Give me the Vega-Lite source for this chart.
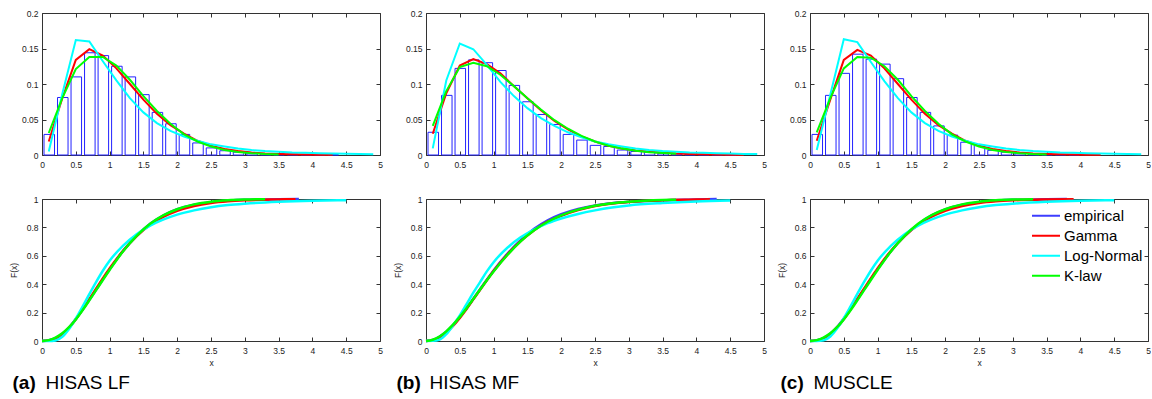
{
"$schema": "https://vega.github.io/schema/vega-lite/v6.json",
"background": "white",
"padding": {"left": 8, "top": 8, "right": 0, "bottom": 0},
"columns": 3,
"bounds": "flush",
"spacing": {"row": 44, "column": 46},
"resolve": {"scale": {"color": "independent"}},
"datasets": {
"bars": [
{"panel":"a","lo":0,"hi":0.2,"p":0.029},{"panel":"a","lo":0.2,"hi":0.4,"p":0.081},{"panel":"a","lo":0.4,"hi":0.6,"p":0.110},{"panel":"a","lo":0.6,"hi":0.8,"p":0.144},{"panel":"a","lo":0.8,"hi":1.0,"p":0.140},{"panel":"a","lo":1.0,"hi":1.2,"p":0.125},{"panel":"a","lo":1.2,"hi":1.4,"p":0.110},{"panel":"a","lo":1.4,"hi":1.6,"p":0.085},{"panel":"a","lo":1.6,"hi":1.8,"p":0.060},{"panel":"a","lo":1.8,"hi":2.0,"p":0.044},{"panel":"a","lo":2.0,"hi":2.2,"p":0.029},{"panel":"a","lo":2.2,"hi":2.4,"p":0.017},{"panel":"a","lo":2.4,"hi":2.6,"p":0.010},{"panel":"a","lo":2.6,"hi":2.8,"p":0.006},{"panel":"a","lo":2.8,"hi":3.0,"p":0.004},{"panel":"a","lo":3.0,"hi":3.2,"p":0.003},{"panel":"a","lo":3.2,"hi":3.4,"p":0.002},{"panel":"a","lo":3.4,"hi":3.6,"p":0.0015},{"panel":"a","lo":3.6,"hi":3.8,"p":0.001},{"panel":"a","lo":3.8,"hi":4.0,"p":0.0008},{"panel":"a","lo":4.0,"hi":4.2,"p":0.0006},{"panel":"a","lo":4.2,"hi":4.4,"p":0.0004},
{"panel":"b","lo":0,"hi":0.2,"p":0.032},{"panel":"b","lo":0.2,"hi":0.4,"p":0.084},{"panel":"b","lo":0.4,"hi":0.6,"p":0.122},{"panel":"b","lo":0.6,"hi":0.8,"p":0.134},{"panel":"b","lo":0.8,"hi":1.0,"p":0.130},{"panel":"b","lo":1.0,"hi":1.2,"p":0.119},{"panel":"b","lo":1.2,"hi":1.4,"p":0.098},{"panel":"b","lo":1.4,"hi":1.6,"p":0.075},{"panel":"b","lo":1.6,"hi":1.8,"p":0.057},{"panel":"b","lo":1.8,"hi":2.0,"p":0.043},{"panel":"b","lo":2.0,"hi":2.2,"p":0.029},{"panel":"b","lo":2.2,"hi":2.4,"p":0.021},{"panel":"b","lo":2.4,"hi":2.6,"p":0.0136},{"panel":"b","lo":2.6,"hi":2.8,"p":0.012},{"panel":"b","lo":2.8,"hi":3.0,"p":0.007},{"panel":"b","lo":3.0,"hi":3.2,"p":0.005},{"panel":"b","lo":3.2,"hi":3.4,"p":0.004},{"panel":"b","lo":3.4,"hi":3.6,"p":0.0025},{"panel":"b","lo":3.6,"hi":3.8,"p":0.0015},{"panel":"b","lo":3.8,"hi":4.0,"p":0.001},{"panel":"b","lo":4.0,"hi":4.2,"p":0.0008},{"panel":"b","lo":4.2,"hi":4.4,"p":0.0006},{"panel":"b","lo":4.4,"hi":4.6,"p":0.0004},
{"panel":"c","lo":0,"hi":0.2,"p":0.029},{"panel":"c","lo":0.2,"hi":0.4,"p":0.084},{"panel":"c","lo":0.4,"hi":0.6,"p":0.115},{"panel":"c","lo":0.6,"hi":0.8,"p":0.142},{"panel":"c","lo":0.8,"hi":1.0,"p":0.135},{"panel":"c","lo":1.0,"hi":1.2,"p":0.128},{"panel":"c","lo":1.2,"hi":1.4,"p":0.1075},{"panel":"c","lo":1.4,"hi":1.6,"p":0.081},{"panel":"c","lo":1.6,"hi":1.8,"p":0.060},{"panel":"c","lo":1.8,"hi":2.0,"p":0.041},{"panel":"c","lo":2.0,"hi":2.2,"p":0.028},{"panel":"c","lo":2.2,"hi":2.4,"p":0.018},{"panel":"c","lo":2.4,"hi":2.6,"p":0.0136},{"panel":"c","lo":2.6,"hi":2.8,"p":0.0066},{"panel":"c","lo":2.8,"hi":3.0,"p":0.004},{"panel":"c","lo":3.0,"hi":3.2,"p":0.0025},{"panel":"c","lo":3.2,"hi":3.4,"p":0.0015},{"panel":"c","lo":3.4,"hi":3.6,"p":0.001},{"panel":"c","lo":3.6,"hi":3.8,"p":0.0008},{"panel":"c","lo":3.8,"hi":4.0,"p":0.0005}
],
"pdf": [
{"panel":"a","series":"Gamma","x":0.1,"y":0.019},{"panel":"a","series":"Gamma","x":0.3,"y":0.080},{"panel":"a","series":"Gamma","x":0.5,"y":0.134},{"panel":"a","series":"Gamma","x":0.7,"y":0.149},{"panel":"a","series":"Gamma","x":0.9,"y":0.140},{"panel":"a","series":"Gamma","x":1.1,"y":0.122},{"panel":"a","series":"Gamma","x":1.3,"y":0.100},{"panel":"a","series":"Gamma","x":1.5,"y":0.078},{"panel":"a","series":"Gamma","x":1.7,"y":0.058},{"panel":"a","series":"Gamma","x":1.9,"y":0.042},{"panel":"a","series":"Gamma","x":2.1,"y":0.030},{"panel":"a","series":"Gamma","x":2.3,"y":0.020},{"panel":"a","series":"Gamma","x":2.5,"y":0.013},{"panel":"a","series":"Gamma","x":2.7,"y":0.0085},{"panel":"a","series":"Gamma","x":2.9,"y":0.0055},{"panel":"a","series":"Gamma","x":3.1,"y":0.0035},{"panel":"a","series":"Gamma","x":3.3,"y":0.0022},{"panel":"a","series":"Gamma","x":3.5,"y":0.0014},{"panel":"a","series":"Gamma","x":3.7,"y":0.0009},{"panel":"a","series":"Gamma","x":3.9,"y":0.0006},{"panel":"a","series":"Gamma","x":4.1,"y":0.0004},{"panel":"a","series":"Gamma","x":4.3,"y":0.0003},
{"panel":"a","series":"Log-Normal","x":0.1,"y":0.005},{"panel":"a","series":"Log-Normal","x":0.3,"y":0.086},{"panel":"a","series":"Log-Normal","x":0.5,"y":0.162},{"panel":"a","series":"Log-Normal","x":0.7,"y":0.160},{"panel":"a","series":"Log-Normal","x":0.9,"y":0.132},{"panel":"a","series":"Log-Normal","x":1.1,"y":0.105},{"panel":"a","series":"Log-Normal","x":1.3,"y":0.080},{"panel":"a","series":"Log-Normal","x":1.5,"y":0.060},{"panel":"a","series":"Log-Normal","x":1.7,"y":0.045},{"panel":"a","series":"Log-Normal","x":1.9,"y":0.034},{"panel":"a","series":"Log-Normal","x":2.1,"y":0.026},{"panel":"a","series":"Log-Normal","x":2.3,"y":0.020},{"panel":"a","series":"Log-Normal","x":2.5,"y":0.015},{"panel":"a","series":"Log-Normal","x":2.7,"y":0.012},{"panel":"a","series":"Log-Normal","x":2.9,"y":0.009},{"panel":"a","series":"Log-Normal","x":3.1,"y":0.007},{"panel":"a","series":"Log-Normal","x":3.3,"y":0.0055},{"panel":"a","series":"Log-Normal","x":3.5,"y":0.0045},{"panel":"a","series":"Log-Normal","x":3.7,"y":0.0035},{"panel":"a","series":"Log-Normal","x":3.9,"y":0.003},{"panel":"a","series":"Log-Normal","x":4.1,"y":0.0025},{"panel":"a","series":"Log-Normal","x":4.3,"y":0.002},{"panel":"a","series":"Log-Normal","x":4.5,"y":0.0017},{"panel":"a","series":"Log-Normal","x":4.7,"y":0.0014},{"panel":"a","series":"Log-Normal","x":4.9,"y":0.0012},
{"panel":"a","series":"K-law","x":0.1,"y":0.031},{"panel":"a","series":"K-law","x":0.3,"y":0.080},{"panel":"a","series":"K-law","x":0.5,"y":0.121},{"panel":"a","series":"K-law","x":0.7,"y":0.138},{"panel":"a","series":"K-law","x":0.9,"y":0.138},{"panel":"a","series":"K-law","x":1.1,"y":0.126},{"panel":"a","series":"K-law","x":1.3,"y":0.106},{"panel":"a","series":"K-law","x":1.5,"y":0.083},{"panel":"a","series":"K-law","x":1.7,"y":0.062},{"panel":"a","series":"K-law","x":1.9,"y":0.044},{"panel":"a","series":"K-law","x":2.1,"y":0.029},{"panel":"a","series":"K-law","x":2.3,"y":0.019},{"panel":"a","series":"K-law","x":2.5,"y":0.012},{"panel":"a","series":"K-law","x":2.7,"y":0.007},{"panel":"a","series":"K-law","x":2.9,"y":0.0042},{"panel":"a","series":"K-law","x":3.1,"y":0.0025},{"panel":"a","series":"K-law","x":3.3,"y":0.0014},{"panel":"a","series":"K-law","x":3.5,"y":0.0008},
{"panel":"b","series":"Gamma","x":0.1,"y":0.030},{"panel":"b","series":"Gamma","x":0.3,"y":0.087},{"panel":"b","series":"Gamma","x":0.5,"y":0.126},{"panel":"b","series":"Gamma","x":0.7,"y":0.135},{"panel":"b","series":"Gamma","x":0.9,"y":0.128},{"panel":"b","series":"Gamma","x":1.1,"y":0.115},{"panel":"b","series":"Gamma","x":1.3,"y":0.097},{"panel":"b","series":"Gamma","x":1.5,"y":0.080},{"panel":"b","series":"Gamma","x":1.7,"y":0.063},{"panel":"b","series":"Gamma","x":1.9,"y":0.048},{"panel":"b","series":"Gamma","x":2.1,"y":0.036},{"panel":"b","series":"Gamma","x":2.3,"y":0.026},{"panel":"b","series":"Gamma","x":2.5,"y":0.019},{"panel":"b","series":"Gamma","x":2.7,"y":0.013},{"panel":"b","series":"Gamma","x":2.9,"y":0.009},{"panel":"b","series":"Gamma","x":3.1,"y":0.0065},{"panel":"b","series":"Gamma","x":3.3,"y":0.0045},{"panel":"b","series":"Gamma","x":3.5,"y":0.003},{"panel":"b","series":"Gamma","x":3.7,"y":0.002},{"panel":"b","series":"Gamma","x":3.9,"y":0.0015},{"panel":"b","series":"Gamma","x":4.1,"y":0.001},{"panel":"b","series":"Gamma","x":4.3,"y":0.0007},{"panel":"b","series":"Gamma","x":4.5,"y":0.0005},{"panel":"b","series":"Gamma","x":4.7,"y":0.0004},
{"panel":"b","series":"Log-Normal","x":0.1,"y":0.0094},{"panel":"b","series":"Log-Normal","x":0.3,"y":0.105},{"panel":"b","series":"Log-Normal","x":0.5,"y":0.157},{"panel":"b","series":"Log-Normal","x":0.7,"y":0.149},{"panel":"b","series":"Log-Normal","x":0.9,"y":0.127},{"panel":"b","series":"Log-Normal","x":1.1,"y":0.103},{"panel":"b","series":"Log-Normal","x":1.3,"y":0.083},{"panel":"b","series":"Log-Normal","x":1.5,"y":0.066},{"panel":"b","series":"Log-Normal","x":1.7,"y":0.052},{"panel":"b","series":"Log-Normal","x":1.9,"y":0.041},{"panel":"b","series":"Log-Normal","x":2.1,"y":0.032},{"panel":"b","series":"Log-Normal","x":2.3,"y":0.025},{"panel":"b","series":"Log-Normal","x":2.5,"y":0.019},{"panel":"b","series":"Log-Normal","x":2.7,"y":0.015},{"panel":"b","series":"Log-Normal","x":2.9,"y":0.012},{"panel":"b","series":"Log-Normal","x":3.1,"y":0.009},{"panel":"b","series":"Log-Normal","x":3.3,"y":0.007},{"panel":"b","series":"Log-Normal","x":3.5,"y":0.0055},{"panel":"b","series":"Log-Normal","x":3.7,"y":0.0045},{"panel":"b","series":"Log-Normal","x":3.9,"y":0.0035},{"panel":"b","series":"Log-Normal","x":4.1,"y":0.003},{"panel":"b","series":"Log-Normal","x":4.3,"y":0.0025},{"panel":"b","series":"Log-Normal","x":4.5,"y":0.002},{"panel":"b","series":"Log-Normal","x":4.7,"y":0.0015},{"panel":"b","series":"Log-Normal","x":4.9,"y":0.0013},
{"panel":"b","series":"K-law","x":0.1,"y":0.041},{"panel":"b","series":"K-law","x":0.3,"y":0.090},{"panel":"b","series":"K-law","x":0.5,"y":0.124},{"panel":"b","series":"K-law","x":0.7,"y":0.130},{"panel":"b","series":"K-law","x":0.9,"y":0.125},{"panel":"b","series":"K-law","x":1.1,"y":0.113},{"panel":"b","series":"K-law","x":1.3,"y":0.097},{"panel":"b","series":"K-law","x":1.5,"y":0.080},{"panel":"b","series":"K-law","x":1.7,"y":0.064},{"panel":"b","series":"K-law","x":1.9,"y":0.049},{"panel":"b","series":"K-law","x":2.1,"y":0.037},{"panel":"b","series":"K-law","x":2.3,"y":0.027},{"panel":"b","series":"K-law","x":2.5,"y":0.019},{"panel":"b","series":"K-law","x":2.7,"y":0.013},{"panel":"b","series":"K-law","x":2.9,"y":0.009},{"panel":"b","series":"K-law","x":3.1,"y":0.006},{"panel":"b","series":"K-law","x":3.3,"y":0.004},{"panel":"b","series":"K-law","x":3.5,"y":0.0027},{"panel":"b","series":"K-law","x":3.7,"y":0.0018},
{"panel":"c","series":"Gamma","x":0.1,"y":0.020},{"panel":"c","series":"Gamma","x":0.3,"y":0.078},{"panel":"c","series":"Gamma","x":0.5,"y":0.134},{"panel":"c","series":"Gamma","x":0.7,"y":0.148},{"panel":"c","series":"Gamma","x":0.9,"y":0.140},{"panel":"c","series":"Gamma","x":1.1,"y":0.122},{"panel":"c","series":"Gamma","x":1.3,"y":0.100},{"panel":"c","series":"Gamma","x":1.5,"y":0.078},{"panel":"c","series":"Gamma","x":1.7,"y":0.058},{"panel":"c","series":"Gamma","x":1.9,"y":0.042},{"panel":"c","series":"Gamma","x":2.1,"y":0.030},{"panel":"c","series":"Gamma","x":2.3,"y":0.020},{"panel":"c","series":"Gamma","x":2.5,"y":0.013},{"panel":"c","series":"Gamma","x":2.7,"y":0.0085},{"panel":"c","series":"Gamma","x":2.9,"y":0.0055},{"panel":"c","series":"Gamma","x":3.1,"y":0.0035},{"panel":"c","series":"Gamma","x":3.3,"y":0.0022},{"panel":"c","series":"Gamma","x":3.5,"y":0.0014},{"panel":"c","series":"Gamma","x":3.7,"y":0.0009},{"panel":"c","series":"Gamma","x":3.9,"y":0.0006},{"panel":"c","series":"Gamma","x":4.1,"y":0.0004},{"panel":"c","series":"Gamma","x":4.3,"y":0.0003},
{"panel":"c","series":"Log-Normal","x":0.1,"y":0.007},{"panel":"c","series":"Log-Normal","x":0.3,"y":0.085},{"panel":"c","series":"Log-Normal","x":0.5,"y":0.163},{"panel":"c","series":"Log-Normal","x":0.7,"y":0.159},{"panel":"c","series":"Log-Normal","x":0.9,"y":0.131},{"panel":"c","series":"Log-Normal","x":1.1,"y":0.104},{"panel":"c","series":"Log-Normal","x":1.3,"y":0.080},{"panel":"c","series":"Log-Normal","x":1.5,"y":0.060},{"panel":"c","series":"Log-Normal","x":1.7,"y":0.045},{"panel":"c","series":"Log-Normal","x":1.9,"y":0.034},{"panel":"c","series":"Log-Normal","x":2.1,"y":0.026},{"panel":"c","series":"Log-Normal","x":2.3,"y":0.020},{"panel":"c","series":"Log-Normal","x":2.5,"y":0.015},{"panel":"c","series":"Log-Normal","x":2.7,"y":0.012},{"panel":"c","series":"Log-Normal","x":2.9,"y":0.009},{"panel":"c","series":"Log-Normal","x":3.1,"y":0.007},{"panel":"c","series":"Log-Normal","x":3.3,"y":0.0055},{"panel":"c","series":"Log-Normal","x":3.5,"y":0.0045},{"panel":"c","series":"Log-Normal","x":3.7,"y":0.0035},{"panel":"c","series":"Log-Normal","x":3.9,"y":0.003},{"panel":"c","series":"Log-Normal","x":4.1,"y":0.0025},{"panel":"c","series":"Log-Normal","x":4.3,"y":0.002},{"panel":"c","series":"Log-Normal","x":4.5,"y":0.0017},{"panel":"c","series":"Log-Normal","x":4.7,"y":0.0014},{"panel":"c","series":"Log-Normal","x":4.9,"y":0.0012},
{"panel":"c","series":"K-law","x":0.1,"y":0.032},{"panel":"c","series":"K-law","x":0.3,"y":0.080},{"panel":"c","series":"K-law","x":0.5,"y":0.122},{"panel":"c","series":"K-law","x":0.7,"y":0.138},{"panel":"c","series":"K-law","x":0.9,"y":0.137},{"panel":"c","series":"K-law","x":1.1,"y":0.125},{"panel":"c","series":"K-law","x":1.3,"y":0.106},{"panel":"c","series":"K-law","x":1.5,"y":0.083},{"panel":"c","series":"K-law","x":1.7,"y":0.062},{"panel":"c","series":"K-law","x":1.9,"y":0.044},{"panel":"c","series":"K-law","x":2.1,"y":0.029},{"panel":"c","series":"K-law","x":2.3,"y":0.019},{"panel":"c","series":"K-law","x":2.5,"y":0.012},{"panel":"c","series":"K-law","x":2.7,"y":0.007},{"panel":"c","series":"K-law","x":2.9,"y":0.0042},{"panel":"c","series":"K-law","x":3.1,"y":0.0025},{"panel":"c","series":"K-law","x":3.3,"y":0.0014},{"panel":"c","series":"K-law","x":3.5,"y":0.0008}
],
"cdf": [
{"panel":"a","series":"empirical","x":0,"y":0},{"panel":"a","series":"empirical","x":0.1,"y":0.005},{"panel":"a","series":"empirical","x":0.2,"y":0.02},{"panel":"a","series":"empirical","x":0.3,"y":0.05},{"panel":"a","series":"empirical","x":0.4,"y":0.095},{"panel":"a","series":"empirical","x":0.5,"y":0.155},{"panel":"a","series":"empirical","x":0.6,"y":0.22},{"panel":"a","series":"empirical","x":0.7,"y":0.29},{"panel":"a","series":"empirical","x":0.8,"y":0.36},{"panel":"a","series":"empirical","x":0.9,"y":0.435},{"panel":"a","series":"empirical","x":1,"y":0.505},{"panel":"a","series":"empirical","x":1.2,"y":0.635},{"panel":"a","series":"empirical","x":1.4,"y":0.74},{"panel":"a","series":"empirical","x":1.6,"y":0.825},{"panel":"a","series":"empirical","x":1.8,"y":0.885},{"panel":"a","series":"empirical","x":2,"y":0.928},{"panel":"a","series":"empirical","x":2.25,"y":0.96},{"panel":"a","series":"empirical","x":2.5,"y":0.978},{"panel":"a","series":"empirical","x":2.75,"y":0.988},{"panel":"a","series":"empirical","x":3,"y":0.994},{"panel":"a","series":"empirical","x":3.5,"y":0.998},{"panel":"a","series":"empirical","x":3.8,"y":1},
{"panel":"a","series":"Gamma","x":0,"y":0},{"panel":"a","series":"Gamma","x":0.1,"y":0.003},{"panel":"a","series":"Gamma","x":0.2,"y":0.017},{"panel":"a","series":"Gamma","x":0.3,"y":0.047},{"panel":"a","series":"Gamma","x":0.4,"y":0.093},{"panel":"a","series":"Gamma","x":0.5,"y":0.153},{"panel":"a","series":"Gamma","x":0.6,"y":0.222},{"panel":"a","series":"Gamma","x":0.7,"y":0.295},{"panel":"a","series":"Gamma","x":0.8,"y":0.368},{"panel":"a","series":"Gamma","x":0.9,"y":0.44},{"panel":"a","series":"Gamma","x":1,"y":0.51},{"panel":"a","series":"Gamma","x":1.2,"y":0.635},{"panel":"a","series":"Gamma","x":1.4,"y":0.738},{"panel":"a","series":"Gamma","x":1.6,"y":0.818},{"panel":"a","series":"Gamma","x":1.8,"y":0.876},{"panel":"a","series":"Gamma","x":2,"y":0.917},{"panel":"a","series":"Gamma","x":2.25,"y":0.951},{"panel":"a","series":"Gamma","x":2.5,"y":0.972},{"panel":"a","series":"Gamma","x":2.75,"y":0.984},{"panel":"a","series":"Gamma","x":3,"y":0.991},{"panel":"a","series":"Gamma","x":3.5,"y":0.997},{"panel":"a","series":"Gamma","x":3.75,"y":0.999},
{"panel":"a","series":"Log-Normal","x":0,"y":0},{"panel":"a","series":"Log-Normal","x":0.1,"y":0},{"panel":"a","series":"Log-Normal","x":0.2,"y":0.004},{"panel":"a","series":"Log-Normal","x":0.3,"y":0.03},{"panel":"a","series":"Log-Normal","x":0.4,"y":0.085},{"panel":"a","series":"Log-Normal","x":0.5,"y":0.158},{"panel":"a","series":"Log-Normal","x":0.6,"y":0.242},{"panel":"a","series":"Log-Normal","x":0.7,"y":0.33},{"panel":"a","series":"Log-Normal","x":0.8,"y":0.415},{"panel":"a","series":"Log-Normal","x":0.9,"y":0.495},{"panel":"a","series":"Log-Normal","x":1,"y":0.565},{"panel":"a","series":"Log-Normal","x":1.2,"y":0.672},{"panel":"a","series":"Log-Normal","x":1.4,"y":0.752},{"panel":"a","series":"Log-Normal","x":1.6,"y":0.812},{"panel":"a","series":"Log-Normal","x":1.8,"y":0.856},{"panel":"a","series":"Log-Normal","x":2,"y":0.89},{"panel":"a","series":"Log-Normal","x":2.25,"y":0.92},{"panel":"a","series":"Log-Normal","x":2.5,"y":0.942},{"panel":"a","series":"Log-Normal","x":2.75,"y":0.957},{"panel":"a","series":"Log-Normal","x":3,"y":0.967},{"panel":"a","series":"Log-Normal","x":3.5,"y":0.98},{"panel":"a","series":"Log-Normal","x":4,"y":0.988},{"panel":"a","series":"Log-Normal","x":4.5,"y":0.992},
{"panel":"a","series":"K-law","x":0,"y":0},{"panel":"a","series":"K-law","x":0.1,"y":0.006},{"panel":"a","series":"K-law","x":0.2,"y":0.024},{"panel":"a","series":"K-law","x":0.3,"y":0.054},{"panel":"a","series":"K-law","x":0.4,"y":0.097},{"panel":"a","series":"K-law","x":0.5,"y":0.152},{"panel":"a","series":"K-law","x":0.6,"y":0.216},{"panel":"a","series":"K-law","x":0.7,"y":0.286},{"panel":"a","series":"K-law","x":0.8,"y":0.358},{"panel":"a","series":"K-law","x":0.9,"y":0.43},{"panel":"a","series":"K-law","x":1,"y":0.5},{"panel":"a","series":"K-law","x":1.2,"y":0.632},{"panel":"a","series":"K-law","x":1.4,"y":0.74},{"panel":"a","series":"K-law","x":1.6,"y":0.825},{"panel":"a","series":"K-law","x":1.8,"y":0.886},{"panel":"a","series":"K-law","x":2,"y":0.928},{"panel":"a","series":"K-law","x":2.25,"y":0.962},{"panel":"a","series":"K-law","x":2.5,"y":0.981},{"panel":"a","series":"K-law","x":2.75,"y":0.991},{"panel":"a","series":"K-law","x":3,"y":0.996},{"panel":"a","series":"K-law","x":3.3,"y":0.999},
{"panel":"b","series":"empirical","x":0,"y":0},{"panel":"b","series":"empirical","x":0.1,"y":0.007},{"panel":"b","series":"empirical","x":0.2,"y":0.03},{"panel":"b","series":"empirical","x":0.3,"y":0.065},{"panel":"b","series":"empirical","x":0.4,"y":0.112},{"panel":"b","series":"empirical","x":0.5,"y":0.168},{"panel":"b","series":"empirical","x":0.6,"y":0.23},{"panel":"b","series":"empirical","x":0.7,"y":0.297},{"panel":"b","series":"empirical","x":0.8,"y":0.365},{"panel":"b","series":"empirical","x":0.9,"y":0.432},{"panel":"b","series":"empirical","x":1,"y":0.497},{"panel":"b","series":"empirical","x":1.2,"y":0.612},{"panel":"b","series":"empirical","x":1.4,"y":0.71},{"panel":"b","series":"empirical","x":1.6,"y":0.79},{"panel":"b","series":"empirical","x":1.8,"y":0.85},{"panel":"b","series":"empirical","x":2,"y":0.893},{"panel":"b","series":"empirical","x":2.25,"y":0.93},{"panel":"b","series":"empirical","x":2.5,"y":0.955},{"panel":"b","series":"empirical","x":2.75,"y":0.97},{"panel":"b","series":"empirical","x":3,"y":0.98},{"panel":"b","series":"empirical","x":3.5,"y":0.992},{"panel":"b","series":"empirical","x":4,"y":0.997},{"panel":"b","series":"empirical","x":4.3,"y":1},
{"panel":"b","series":"Gamma","x":0,"y":0},{"panel":"b","series":"Gamma","x":0.1,"y":0.006},{"panel":"b","series":"Gamma","x":0.2,"y":0.026},{"panel":"b","series":"Gamma","x":0.3,"y":0.06},{"panel":"b","series":"Gamma","x":0.4,"y":0.107},{"panel":"b","series":"Gamma","x":0.5,"y":0.163},{"panel":"b","series":"Gamma","x":0.6,"y":0.226},{"panel":"b","series":"Gamma","x":0.7,"y":0.293},{"panel":"b","series":"Gamma","x":0.8,"y":0.36},{"panel":"b","series":"Gamma","x":0.9,"y":0.428},{"panel":"b","series":"Gamma","x":1,"y":0.493},{"panel":"b","series":"Gamma","x":1.2,"y":0.607},{"panel":"b","series":"Gamma","x":1.4,"y":0.703},{"panel":"b","series":"Gamma","x":1.6,"y":0.78},{"panel":"b","series":"Gamma","x":1.8,"y":0.84},{"panel":"b","series":"Gamma","x":2,"y":0.882},{"panel":"b","series":"Gamma","x":2.25,"y":0.922},{"panel":"b","series":"Gamma","x":2.5,"y":0.95},{"panel":"b","series":"Gamma","x":2.75,"y":0.968},{"panel":"b","series":"Gamma","x":3,"y":0.979},{"panel":"b","series":"Gamma","x":3.5,"y":0.991},{"panel":"b","series":"Gamma","x":4,"y":0.996},{"panel":"b","series":"Gamma","x":4.2,"y":0.998},
{"panel":"b","series":"Log-Normal","x":0,"y":0},{"panel":"b","series":"Log-Normal","x":0.1,"y":0.001},{"panel":"b","series":"Log-Normal","x":0.2,"y":0.01},{"panel":"b","series":"Log-Normal","x":0.3,"y":0.048},{"panel":"b","series":"Log-Normal","x":0.4,"y":0.11},{"panel":"b","series":"Log-Normal","x":0.5,"y":0.18},{"panel":"b","series":"Log-Normal","x":0.6,"y":0.26},{"panel":"b","series":"Log-Normal","x":0.7,"y":0.34},{"panel":"b","series":"Log-Normal","x":0.8,"y":0.415},{"panel":"b","series":"Log-Normal","x":0.9,"y":0.49},{"panel":"b","series":"Log-Normal","x":1,"y":0.555},{"panel":"b","series":"Log-Normal","x":1.2,"y":0.655},{"panel":"b","series":"Log-Normal","x":1.4,"y":0.73},{"panel":"b","series":"Log-Normal","x":1.6,"y":0.785},{"panel":"b","series":"Log-Normal","x":1.8,"y":0.83},{"panel":"b","series":"Log-Normal","x":2,"y":0.863},{"panel":"b","series":"Log-Normal","x":2.25,"y":0.895},{"panel":"b","series":"Log-Normal","x":2.5,"y":0.92},{"panel":"b","series":"Log-Normal","x":2.75,"y":0.94},{"panel":"b","series":"Log-Normal","x":3,"y":0.955},{"panel":"b","series":"Log-Normal","x":3.5,"y":0.972},{"panel":"b","series":"Log-Normal","x":4,"y":0.983},{"panel":"b","series":"Log-Normal","x":4.5,"y":0.989},
{"panel":"b","series":"K-law","x":0,"y":0},{"panel":"b","series":"K-law","x":0.1,"y":0.009},{"panel":"b","series":"K-law","x":0.2,"y":0.032},{"panel":"b","series":"K-law","x":0.3,"y":0.068},{"panel":"b","series":"K-law","x":0.4,"y":0.115},{"panel":"b","series":"K-law","x":0.5,"y":0.17},{"panel":"b","series":"K-law","x":0.6,"y":0.231},{"panel":"b","series":"K-law","x":0.7,"y":0.296},{"panel":"b","series":"K-law","x":0.8,"y":0.362},{"panel":"b","series":"K-law","x":0.9,"y":0.428},{"panel":"b","series":"K-law","x":1,"y":0.49},{"panel":"b","series":"K-law","x":1.2,"y":0.604},{"panel":"b","series":"K-law","x":1.4,"y":0.702},{"panel":"b","series":"K-law","x":1.6,"y":0.78},{"panel":"b","series":"K-law","x":1.8,"y":0.84},{"panel":"b","series":"K-law","x":2,"y":0.885},{"panel":"b","series":"K-law","x":2.25,"y":0.925},{"panel":"b","series":"K-law","x":2.5,"y":0.952},{"panel":"b","series":"K-law","x":2.75,"y":0.97},{"panel":"b","series":"K-law","x":3,"y":0.981},{"panel":"b","series":"K-law","x":3.5,"y":0.993},{"panel":"b","series":"K-law","x":3.7,"y":0.995},
{"panel":"c","series":"empirical","x":0,"y":0},{"panel":"c","series":"empirical","x":0.1,"y":0.005},{"panel":"c","series":"empirical","x":0.2,"y":0.021},{"panel":"c","series":"empirical","x":0.3,"y":0.052},{"panel":"c","series":"empirical","x":0.4,"y":0.098},{"panel":"c","series":"empirical","x":0.5,"y":0.158},{"panel":"c","series":"empirical","x":0.6,"y":0.224},{"panel":"c","series":"empirical","x":0.7,"y":0.294},{"panel":"c","series":"empirical","x":0.8,"y":0.364},{"panel":"c","series":"empirical","x":0.9,"y":0.437},{"panel":"c","series":"empirical","x":1,"y":0.506},{"panel":"c","series":"empirical","x":1.2,"y":0.634},{"panel":"c","series":"empirical","x":1.4,"y":0.74},{"panel":"c","series":"empirical","x":1.6,"y":0.823},{"panel":"c","series":"empirical","x":1.8,"y":0.884},{"panel":"c","series":"empirical","x":2,"y":0.927},{"panel":"c","series":"empirical","x":2.25,"y":0.96},{"panel":"c","series":"empirical","x":2.5,"y":0.978},{"panel":"c","series":"empirical","x":2.75,"y":0.988},{"panel":"c","series":"empirical","x":3,"y":0.994},{"panel":"c","series":"empirical","x":3.5,"y":0.998},{"panel":"c","series":"empirical","x":3.8,"y":1},
{"panel":"c","series":"Gamma","x":0,"y":0},{"panel":"c","series":"Gamma","x":0.1,"y":0.003},{"panel":"c","series":"Gamma","x":0.2,"y":0.018},{"panel":"c","series":"Gamma","x":0.3,"y":0.048},{"panel":"c","series":"Gamma","x":0.4,"y":0.094},{"panel":"c","series":"Gamma","x":0.5,"y":0.154},{"panel":"c","series":"Gamma","x":0.6,"y":0.223},{"panel":"c","series":"Gamma","x":0.7,"y":0.296},{"panel":"c","series":"Gamma","x":0.8,"y":0.369},{"panel":"c","series":"Gamma","x":0.9,"y":0.441},{"panel":"c","series":"Gamma","x":1,"y":0.511},{"panel":"c","series":"Gamma","x":1.2,"y":0.636},{"panel":"c","series":"Gamma","x":1.4,"y":0.738},{"panel":"c","series":"Gamma","x":1.6,"y":0.818},{"panel":"c","series":"Gamma","x":1.8,"y":0.876},{"panel":"c","series":"Gamma","x":2,"y":0.917},{"panel":"c","series":"Gamma","x":2.25,"y":0.951},{"panel":"c","series":"Gamma","x":2.5,"y":0.972},{"panel":"c","series":"Gamma","x":2.75,"y":0.984},{"panel":"c","series":"Gamma","x":3,"y":0.991},{"panel":"c","series":"Gamma","x":3.5,"y":0.997},{"panel":"c","series":"Gamma","x":3.9,"y":0.999},
{"panel":"c","series":"Log-Normal","x":0,"y":0},{"panel":"c","series":"Log-Normal","x":0.1,"y":0},{"panel":"c","series":"Log-Normal","x":0.2,"y":0.005},{"panel":"c","series":"Log-Normal","x":0.3,"y":0.032},{"panel":"c","series":"Log-Normal","x":0.4,"y":0.088},{"panel":"c","series":"Log-Normal","x":0.5,"y":0.16},{"panel":"c","series":"Log-Normal","x":0.6,"y":0.244},{"panel":"c","series":"Log-Normal","x":0.7,"y":0.332},{"panel":"c","series":"Log-Normal","x":0.8,"y":0.416},{"panel":"c","series":"Log-Normal","x":0.9,"y":0.495},{"panel":"c","series":"Log-Normal","x":1,"y":0.565},{"panel":"c","series":"Log-Normal","x":1.2,"y":0.672},{"panel":"c","series":"Log-Normal","x":1.4,"y":0.752},{"panel":"c","series":"Log-Normal","x":1.6,"y":0.812},{"panel":"c","series":"Log-Normal","x":1.8,"y":0.856},{"panel":"c","series":"Log-Normal","x":2,"y":0.89},{"panel":"c","series":"Log-Normal","x":2.25,"y":0.92},{"panel":"c","series":"Log-Normal","x":2.5,"y":0.942},{"panel":"c","series":"Log-Normal","x":2.75,"y":0.957},{"panel":"c","series":"Log-Normal","x":3,"y":0.967},{"panel":"c","series":"Log-Normal","x":3.5,"y":0.98},{"panel":"c","series":"Log-Normal","x":4,"y":0.988},{"panel":"c","series":"Log-Normal","x":4.5,"y":0.992},
{"panel":"c","series":"K-law","x":0,"y":0},{"panel":"c","series":"K-law","x":0.1,"y":0.006},{"panel":"c","series":"K-law","x":0.2,"y":0.024},{"panel":"c","series":"K-law","x":0.3,"y":0.054},{"panel":"c","series":"K-law","x":0.4,"y":0.097},{"panel":"c","series":"K-law","x":0.5,"y":0.152},{"panel":"c","series":"K-law","x":0.6,"y":0.216},{"panel":"c","series":"K-law","x":0.7,"y":0.286},{"panel":"c","series":"K-law","x":0.8,"y":0.358},{"panel":"c","series":"K-law","x":0.9,"y":0.43},{"panel":"c","series":"K-law","x":1,"y":0.5},{"panel":"c","series":"K-law","x":1.2,"y":0.632},{"panel":"c","series":"K-law","x":1.4,"y":0.74},{"panel":"c","series":"K-law","x":1.6,"y":0.825},{"panel":"c","series":"K-law","x":1.8,"y":0.886},{"panel":"c","series":"K-law","x":2,"y":0.928},{"panel":"c","series":"K-law","x":2.25,"y":0.962},{"panel":"c","series":"K-law","x":2.5,"y":0.981},{"panel":"c","series":"K-law","x":2.75,"y":0.991},{"panel":"c","series":"K-law","x":3,"y":0.996},{"panel":"c","series":"K-law","x":3.3,"y":0.999}
]
},
"concat": [
{"width":338,"height":142,"resolve":{"axis":{"x":"independent","y":"independent"}},"layer":[
 {"data":{"name":"bars"},"transform":[{"filter":"datum.panel == 'a'"}],"mark":{"type":"bar","fillOpacity":0,"stroke":"#2222ff","strokeWidth":1,"binSpacing":3},
  "encoding":{"x":{"field":"lo","type":"quantitative","bin":"binned","scale":{"domain":[0,5],"nice":false,"zero":false},"axis":{"orient":"bottom","values":[0,0.5,1,1.5,2,2.5,3,3.5,4,4.5,5],"title":null}},"x2":{"field":"hi"},
  "y":{"field":"p","type":"quantitative","scale":{"domain":[0,0.2],"nice":false},"axis":{"orient":"left","values":[0,0.05,0.1,0.15,0.2],"title":null}}}},
 {"data":{"name":"pdf"},"transform":[{"filter":"datum.panel == 'a'"}],"mark":{"type":"line","strokeWidth":2},
  "encoding":{"x":{"field":"x","type":"quantitative","axis":{"orient":"top","values":[0,0.5,1,1.5,2,2.5,3,3.5,4,4.5,5],"labels":false,"title":null}},
  "y":{"field":"y","type":"quantitative","axis":{"orient":"right","values":[0,0.05,0.1,0.15,0.2],"labels":false,"title":null}},
  "color":{"field":"series","type":"nominal","scale":{"domain":["empirical","Gamma","Log-Normal","K-law"],"range":["#3d3dff","#ff0000","#00ffff","#00ff00"]},"legend":null}}}
]},
{"width":338,"height":142,"resolve":{"axis":{"x":"independent","y":"independent"}},"layer":[
 {"data":{"name":"bars"},"transform":[{"filter":"datum.panel == 'b'"}],"mark":{"type":"bar","fillOpacity":0,"stroke":"#2222ff","strokeWidth":1,"binSpacing":3},
  "encoding":{"x":{"field":"lo","type":"quantitative","bin":"binned","scale":{"domain":[0,5],"nice":false,"zero":false},"axis":{"orient":"bottom","values":[0,0.5,1,1.5,2,2.5,3,3.5,4,4.5,5],"title":null}},"x2":{"field":"hi"},
  "y":{"field":"p","type":"quantitative","scale":{"domain":[0,0.2],"nice":false},"axis":{"orient":"left","values":[0,0.05,0.1,0.15,0.2],"title":null}}}},
 {"data":{"name":"pdf"},"transform":[{"filter":"datum.panel == 'b'"}],"mark":{"type":"line","strokeWidth":2},
  "encoding":{"x":{"field":"x","type":"quantitative","axis":{"orient":"top","values":[0,0.5,1,1.5,2,2.5,3,3.5,4,4.5,5],"labels":false,"title":null}},
  "y":{"field":"y","type":"quantitative","axis":{"orient":"right","values":[0,0.05,0.1,0.15,0.2],"labels":false,"title":null}},
  "color":{"field":"series","type":"nominal","scale":{"domain":["empirical","Gamma","Log-Normal","K-law"],"range":["#3d3dff","#ff0000","#00ffff","#00ff00"]},"legend":null}}}
]},
{"width":338,"height":142,"resolve":{"axis":{"x":"independent","y":"independent"}},"layer":[
 {"data":{"name":"bars"},"transform":[{"filter":"datum.panel == 'c'"}],"mark":{"type":"bar","fillOpacity":0,"stroke":"#2222ff","strokeWidth":1,"binSpacing":3},
  "encoding":{"x":{"field":"lo","type":"quantitative","bin":"binned","scale":{"domain":[0,5],"nice":false,"zero":false},"axis":{"orient":"bottom","values":[0,0.5,1,1.5,2,2.5,3,3.5,4,4.5,5],"title":null}},"x2":{"field":"hi"},
  "y":{"field":"p","type":"quantitative","scale":{"domain":[0,0.2],"nice":false},"axis":{"orient":"left","values":[0,0.05,0.1,0.15,0.2],"title":null}}}},
 {"data":{"name":"pdf"},"transform":[{"filter":"datum.panel == 'c'"}],"mark":{"type":"line","strokeWidth":2},
  "encoding":{"x":{"field":"x","type":"quantitative","axis":{"orient":"top","values":[0,0.5,1,1.5,2,2.5,3,3.5,4,4.5,5],"labels":false,"title":null}},
  "y":{"field":"y","type":"quantitative","axis":{"orient":"right","values":[0,0.05,0.1,0.15,0.2],"labels":false,"title":null}},
  "color":{"field":"series","type":"nominal","scale":{"domain":["empirical","Gamma","Log-Normal","K-law"],"range":["#3d3dff","#ff0000","#00ffff","#00ff00"]},"legend":null}}}
]},
{"width":338,"height":142,"resolve":{"axis":{"x":"independent","y":"independent"}},"layer":[
 {"data":{"name":"cdf"},"transform":[{"filter":"datum.panel == 'a' && datum.series == 'empirical'"}],"mark":{"type":"line","strokeWidth":2.5,"interpolate":"monotone"},
  "encoding":{"x":{"field":"x","type":"quantitative","scale":{"domain":[0,5],"nice":false},"axis":{"orient":"bottom","values":[0,0.5,1,1.5,2,2.5,3,3.5,4,4.5,5],"title":"x"}},
  "y":{"field":"y","type":"quantitative","scale":{"domain":[0,1],"nice":false},"axis":{"orient":"left","values":[0,0.2,0.4,0.6,0.8,1],"title":"F(x)"}},
  "color":{"field":"series","type":"nominal","scale":{"domain":["empirical","Gamma","Log-Normal","K-law"],"range":["#3d3dff","#ff0000","#00ffff","#00ff00"]},"legend":null}}},
 {"data":{"name":"cdf"},"transform":[{"filter":"datum.panel == 'a' && datum.series == 'Gamma'"}],"mark":{"type":"line","strokeWidth":2.5,"interpolate":"monotone"},
  "encoding":{"x":{"field":"x","type":"quantitative","axis":{"orient":"top","values":[0,0.5,1,1.5,2,2.5,3,3.5,4,4.5,5],"labels":false,"title":null}},
  "y":{"field":"y","type":"quantitative","axis":{"orient":"right","values":[0,0.2,0.4,0.6,0.8,1],"labels":false,"title":null}},
  "color":{"field":"series","type":"nominal","legend":null}}},
 {"data":{"name":"cdf"},"transform":[{"filter":"datum.panel == 'a' && (datum.series == 'Log-Normal' || datum.series == 'K-law')"}],"mark":{"type":"line","strokeWidth":2.5,"interpolate":"monotone"},
  "encoding":{"x":{"field":"x","type":"quantitative","axis":{"orient":"bottom","ticks":false,"labels":false,"title":"(a)","titleFontWeight":"bold","titleFontSize":19,"titleColor":"#000","titleX":-30,"titleY":47,"titleAlign":"left","titleBaseline":"alphabetic"}},
  "y":{"field":"y","type":"quantitative","axis":{"orient":"left","ticks":false,"labels":false,"title":"HISAS LF","titleAngle":0,"titleFontSize":19,"titleColor":"#000","titleX":3,"titleY":189,"titleAlign":"left","titleBaseline":"alphabetic"}},
  "color":{"field":"series","type":"nominal","legend":null}}}
]},
{"width":338,"height":142,"resolve":{"axis":{"x":"independent","y":"independent"}},"layer":[
 {"data":{"name":"cdf"},"transform":[{"filter":"datum.panel == 'b' && datum.series == 'empirical'"}],"mark":{"type":"line","strokeWidth":2.5,"interpolate":"monotone"},
  "encoding":{"x":{"field":"x","type":"quantitative","scale":{"domain":[0,5],"nice":false},"axis":{"orient":"bottom","values":[0,0.5,1,1.5,2,2.5,3,3.5,4,4.5,5],"title":"x"}},
  "y":{"field":"y","type":"quantitative","scale":{"domain":[0,1],"nice":false},"axis":{"orient":"left","values":[0,0.2,0.4,0.6,0.8,1],"title":"F(x)"}},
  "color":{"field":"series","type":"nominal","scale":{"domain":["empirical","Gamma","Log-Normal","K-law"],"range":["#3d3dff","#ff0000","#00ffff","#00ff00"]},"legend":null}}},
 {"data":{"name":"cdf"},"transform":[{"filter":"datum.panel == 'b' && datum.series == 'Gamma'"}],"mark":{"type":"line","strokeWidth":2.5,"interpolate":"monotone"},
  "encoding":{"x":{"field":"x","type":"quantitative","axis":{"orient":"top","values":[0,0.5,1,1.5,2,2.5,3,3.5,4,4.5,5],"labels":false,"title":null}},
  "y":{"field":"y","type":"quantitative","axis":{"orient":"right","values":[0,0.2,0.4,0.6,0.8,1],"labels":false,"title":null}},
  "color":{"field":"series","type":"nominal","legend":null}}},
 {"data":{"name":"cdf"},"transform":[{"filter":"datum.panel == 'b' && (datum.series == 'Log-Normal' || datum.series == 'K-law')"}],"mark":{"type":"line","strokeWidth":2.5,"interpolate":"monotone"},
  "encoding":{"x":{"field":"x","type":"quantitative","axis":{"orient":"bottom","ticks":false,"labels":false,"title":"(b)","titleFontWeight":"bold","titleFontSize":19,"titleColor":"#000","titleX":-30,"titleY":47,"titleAlign":"left","titleBaseline":"alphabetic"}},
  "y":{"field":"y","type":"quantitative","axis":{"orient":"left","ticks":false,"labels":false,"title":"HISAS MF","titleAngle":0,"titleFontSize":19,"titleColor":"#000","titleX":3,"titleY":189,"titleAlign":"left","titleBaseline":"alphabetic"}},
  "color":{"field":"series","type":"nominal","legend":null}}}
]},
{"width":338,"height":142,"resolve":{"axis":{"x":"independent","y":"independent"}},"layer":[
 {"data":{"name":"cdf"},"transform":[{"filter":"datum.panel == 'c' && datum.series == 'empirical'"}],"mark":{"type":"line","strokeWidth":2.5,"interpolate":"monotone"},
  "encoding":{"x":{"field":"x","type":"quantitative","scale":{"domain":[0,5],"nice":false},"axis":{"orient":"bottom","values":[0,0.5,1,1.5,2,2.5,3,3.5,4,4.5,5],"title":"x"}},
  "y":{"field":"y","type":"quantitative","scale":{"domain":[0,1],"nice":false},"axis":{"orient":"left","values":[0,0.2,0.4,0.6,0.8,1],"title":"F(x)"}},
  "color":{"field":"series","type":"nominal","scale":{"domain":["empirical","Gamma","Log-Normal","K-law"],"range":["#3d3dff","#ff0000","#00ffff","#00ff00"]},
   "legend":{"orient":"none","legendX":221,"legendY":7,"padding":0,"title":null,"symbolType":"stroke","symbolSize":784,"symbolStrokeWidth":2,"clipHeight":19.7,"labelFontSize":15,"labelFont":"Liberation Sans","labelColor":"#000","labelOffset":3,"rowPadding":0,"fillColor":"white"}}}},
 {"data":{"name":"cdf"},"transform":[{"filter":"datum.panel == 'c' && datum.series == 'Gamma'"}],"mark":{"type":"line","strokeWidth":2.5,"interpolate":"monotone"},
  "encoding":{"x":{"field":"x","type":"quantitative","axis":{"orient":"top","values":[0,0.5,1,1.5,2,2.5,3,3.5,4,4.5,5],"labels":false,"title":null}},
  "y":{"field":"y","type":"quantitative","axis":{"orient":"right","values":[0,0.2,0.4,0.6,0.8,1],"labels":false,"title":null}},
  "color":{"field":"series","type":"nominal"}}},
 {"data":{"name":"cdf"},"transform":[{"filter":"datum.panel == 'c' && (datum.series == 'Log-Normal' || datum.series == 'K-law')"}],"mark":{"type":"line","strokeWidth":2.5,"interpolate":"monotone"},
  "encoding":{"x":{"field":"x","type":"quantitative","axis":{"orient":"bottom","ticks":false,"labels":false,"title":"(c)","titleFontWeight":"bold","titleFontSize":19,"titleColor":"#000","titleX":-30,"titleY":47,"titleAlign":"left","titleBaseline":"alphabetic"}},
  "y":{"field":"y","type":"quantitative","axis":{"orient":"left","ticks":false,"labels":false,"title":"MUSCLE","titleAngle":0,"titleFontSize":19,"titleColor":"#000","titleX":3,"titleY":189,"titleAlign":"left","titleBaseline":"alphabetic"}},
  "color":{"field":"series","type":"nominal"}}}
]}
],
"config": {
 "font": "Liberation Sans",
 "view": {"stroke": "#333", "strokeWidth": 1},
 "axis": {"grid": false, "domain": false, "ticks": true, "tickSize": -4, "tickColor": "#333", "labelFont": "Liberation Sans", "labelFontSize": 8.5, "labelColor": "#222", "labelFlush": false, "labelOverlap": false, "format": "~g", "titleFont": "Liberation Sans", "titleFontSize": 8.5, "titleFontWeight": "normal", "titleColor": "#222"},
 "axisX": {"labelPadding": 9, "titlePadding": 4},
 "axisY": {"labelPadding": 8, "titlePadding": 8}
}
}
